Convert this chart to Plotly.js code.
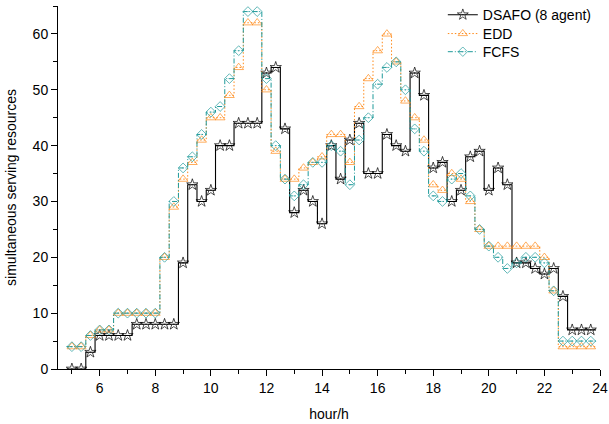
<!DOCTYPE html>
<html>
<head>
<meta charset="utf-8">
<script src="https://cdn.plot.ly/plotly-3.0.1.min.js"></script>
<style>html,body{margin:0;padding:0;background:#fff;}#chart{width:609px;height:424px;}</style>
</head>
<body>
<div id="chart"></div>
<script>
// time of day (h:mm), one sample every 20 minutes
const times = ['5:00','5:20','5:40','6:00','6:20','6:40','7:00','7:20','7:40','8:00','8:20','8:40',
  '9:00','9:20','9:40','10:00','10:20','10:40','11:00','11:20','11:40','12:00','12:20','12:40',
  '13:00','13:20','13:40','14:00','14:20','14:40','15:00','15:20','15:40','16:00','16:20','16:40',
  '17:00','17:20','17:40','18:00','18:20','18:40','19:00','19:20','19:40','20:00','20:20','20:40',
  '21:00','21:20','21:40','22:00','22:20','22:40','23:00','23:20','23:40'];

const dsafo = [0,0,3,6,6,6,6,8,8,8,8,8,
  19,33,30,32,40,40,44,44,44,53,54,43,
  28,32,30,26,40,34,41,44,35,35,42,40,
  39,53,49,36,37,30,32,38,39,32,36,33,
  19,19,18,17,18,13,7,7,7];

const edd = [4,4,6,7,7,10,10,10,10,10,20,29,
  34,37,41,45,45,49,54,62,62,50,39,34,
  34,36,37,38,42,42,37,47,52,57,60,55,
  48,45,41,33,32,35,34,30,25,22,22,22,
  22,22,22,20,14,4,4,4,4];

const fcfs = [4,4,6,7,7,10,10,10,10,10,20,30,
  36,38,42,46,47,52,57,64,64,52,40,34,
  31,33,37,37,40,39,33,41,45,51,54,55,
  50,43,39,31,30,34,35,31,25,22,20,18,
  19,20,20,19,14,5,5,5,5];

const seriesNames = ['DSAFO (8 agent)', 'EDD', 'FCFS'];

const hours = times.map(s => { const p = s.split(':'); return +p[0] + (+p[1]) / 60; });
const half = (hours[1] - hours[0]) / 2;

function stepTrace(name, vals, color, dash, symbol, msize, lw, legendId) {
  const x = [hours[0] - half].concat(hours, [hours[hours.length - 1] + half]);
  const y = [vals[0]].concat(vals, [vals[vals.length - 1]]);
  const sizes = x.map((_, i) => (i === 0 || i === x.length - 1) ? 0 : msize);
  const mlw = x.map((_, i) => (i === 0 || i === x.length - 1) ? 0 : 1);
  return {
    x: x, y: y, name: name, type: 'scatter', mode: 'lines+markers', legend: legendId,
    line: {shape: 'hvh', color: color, width: lw, dash: dash},
    marker: {symbol: symbol, size: sizes, color: color, line: {color: color, width: mlw}},
    hoverinfo: 'skip'
  };
}

const traces = [
  stepTrace(seriesNames[0], dsafo, '#000000', 'solid', 'star-open-dot', 8.5, 1.1, 'legend'),
  stepTrace(seriesNames[1], edd, '#ff8a1a', '1.5px,2px', 'triangle-up-open', 8.5, 1, 'legend2'),
  stepTrace(seriesNames[2], fcfs, '#1f9a9a', '5px,2px,1px,2px', 'diamond-open-dot', 7.5, 1, 'legend3')
];

const font = {family: '"Liberation Sans", Arial, sans-serif', size: 14, color: '#000'};
function leg(y) {
  return {x: 0.71, y: y, xanchor: 'left', yanchor: 'middle', bgcolor: 'rgba(0,0,0,0)', font: font};
}

const layout = {
  width: 609, height: 424,
  margin: {l: 57.5, r: 9, t: 6, b: 55, autoexpand: false},
  paper_bgcolor: '#fff', plot_bgcolor: '#fff',
  font: font,
  showlegend: true,
  legend: leg(0.975),
  legend2: leg(0.923),
  legend3: leg(0.873),
  xaxis: {
    range: [4.5, 24], showgrid: false, zeroline: false, showline: true, linecolor: '#000', linewidth: 1,
    ticks: 'outside', ticklen: 6, tickwidth: 1, tickcolor: '#000', dtick: 2, tick0: 0,
    minor: {ticks: 'outside', ticklen: 4, dtick: 1, tick0: 0, tickcolor: '#000', showgrid: false},
    title: {text: 'hour/h', font: font, standoff: 14}
  },
  yaxis: {
    range: [0, 65], showgrid: false, zeroline: false, showline: true, linecolor: '#000', linewidth: 1,
    ticks: 'outside', ticklen: 6, tickwidth: 1, tickcolor: '#000', dtick: 10, tick0: 0,
    minor: {ticks: 'outside', ticklen: 4, dtick: 5, tick0: 0, tickcolor: '#000', showgrid: false},
    title: {text: 'simultaneous serving resources', font: font, standoff: 12}
  }
};

Plotly.newPlot('chart', traces, layout, {displayModeBar: false, staticPlot: true});
</script>
</body>
</html>
